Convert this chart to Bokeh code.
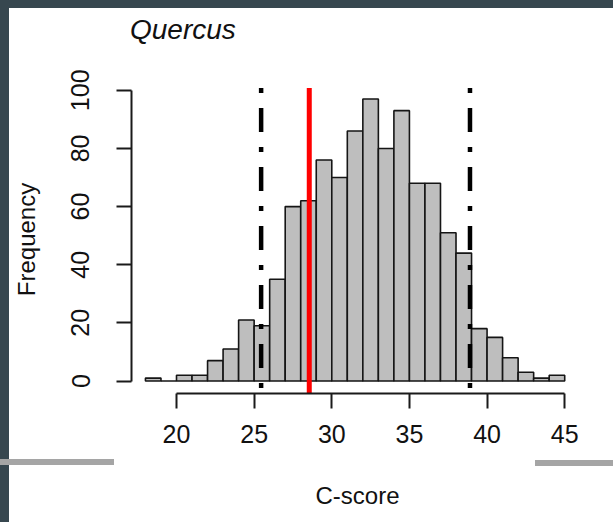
from bokeh.plotting import figure
from bokeh.layouts import column
from bokeh.models import Range1d, ColumnDataSource, FixedTicker, Div
from bokeh.embed import file_html
from bokeh.resources import INLINE

# ---- data ----
bin_left = list(range(18, 45))
bin_right = list(range(19, 46))
counts = [1, 0, 2, 2, 7, 11, 21, 19, 35, 60, 62, 76, 70, 86, 97, 80, 93,
          68, 68, 51, 44, 18, 15, 8, 3, 1, 2]
observed = [28.55]          # red line
ci_bounds = [25.45, 38.9]   # dot-dash lines
x_ticks = [20, 25, 30, 35, 40, 45]
y_ticks = [0, 20, 40, 60, 80, 100]
line_top, line_bottom = 100.8, -4.4
title_text = "Quercus"

FONT = "Liberation Sans"
DARK = "#37474f"
GREY = "#a5a5a5"

# frame geometry (figure is offset 9px right / 58px down on the page)
px_x = 15.7
px_y = 2.907
x0 = 20 - 45.5 / px_x
x1 = x0 + 457 / px_x
y0 = -12.5 / px_y
y1 = y0 + 308 / px_y

p = figure(width=604, height=464, output_backend="svg", toolbar_location=None,
           x_range=Range1d(x0, x1), y_range=Range1d(y0, y1),
           min_border_left=117, min_border_right=30,
           min_border_top=27, min_border_bottom=129,
           margin=(0, 0, 0, 9), styles={"background-color": "white"})
p.outline_line_color = None
p.grid.visible = False
p.background_fill_color = "white"
p.border_fill_color = "white"

src = ColumnDataSource(dict(left=bin_left, right=bin_right, top=counts,
                            bottom=[0] * len(counts)))
p.quad(left="left", right="right", top="top", bottom="bottom", source=src,
       fill_color="#bebebe", line_color="#151515", line_width=1.6)

p.segment(x0=ci_bounds, y0=[line_top] * 2, x1=ci_bounds, y1=[line_bottom] * 2,
          line_color="black", line_width=4.5, line_dash="5 15 24 15",
          line_cap="butt")
p.segment(x0=observed, y0=[line_top], x1=observed, y1=[line_bottom],
          line_color="#ff0000", line_width=5)

for ax, ticks, bnds in ((p.xaxis, x_ticks, (20, 45)), (p.yaxis, y_ticks, (0, 100))):
    ax.ticker = FixedTicker(ticks=ticks)
    ax.bounds = bnds
    ax.major_tick_out = 15
    ax.major_tick_in = 0
    ax.minor_tick_out = 0
    ax.minor_tick_in = 0
    ax.axis_line_width = 2
    ax.axis_line_color = "#1a1a1a"
    ax.major_tick_line_width = 2
    ax.major_tick_line_color = "#1a1a1a"
    ax.major_label_text_font = FONT
    ax.major_label_text_font_size = "25px"
    ax.major_label_text_color = "#111111"
    ax.axis_label_text_font = FONT
    ax.axis_label_text_font_size = "24px"
    ax.axis_label_text_font_style = "normal"
    ax.axis_label_text_color = "#111111"

p.xaxis.major_label_standoff = 16
p.xaxis.axis_label = "C-score"
p.xaxis.axis_label_standoff = 36
p.yaxis.major_label_standoff = 27
p.yaxis.axis_label = "Frequency"
p.yaxis.axis_label_standoff = 29
p.yaxis.major_label_orientation = "vertical"

# title strip above the figure (plus the grey slide rules, absolutely placed)
rules = (
    f'<div style="position:absolute;left:-9px;top:451px;width:114px;height:6px;'
    f'background:{GREY};z-index:10"></div>'
    f'<div style="position:absolute;left:526px;top:452px;width:78px;height:6px;'
    f'background:{GREY};z-index:10"></div>'
)
title_div = Div(
    text=f'<div style="padding:8px 0 0 121px;margin:0;line-height:28px;'
         f'font-family:\'{FONT}\';font-style:italic;font-size:28px;color:#111111">'
         f'{title_text}</div>' + rules,
    width=604, height=50, margin=(8, 0, 0, 9),
    styles={"background-color": "white", "overflow": "visible",
            "position": "relative", "z-index": "10"})

root = column(title_div, p, spacing=0,
              styles={"background-color": DARK})

open("out.html", "w").write(file_html(root, INLINE))
